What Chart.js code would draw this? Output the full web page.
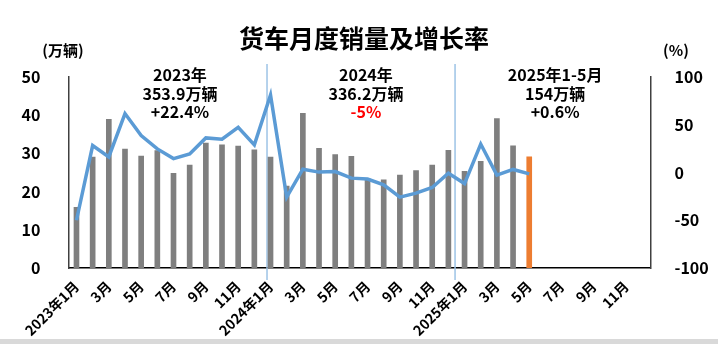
<!DOCTYPE html>
<html>
<head>
    <meta charset="utf-8">
    <title>货车月度销量及增长率</title>
    <script src="https://cdn.jsdelivr.net/npm/chart.js"></script>
    <style>
        body {
            margin: 0;
            background-color: #d9d9d9;
        }

        .wrap {
            width: 718px;
            height: 339px;
            background-color: #ffffff;
            position: relative;
        }
    </style>
</head>
<body>
    <div class="wrap">
        <canvas id="truckChart"></canvas>
    </div>

    <script>
        var months = [
            '2023年1月', '2月', '3月', '4月', '5月', '6月', '7月', '8月', '9月', '10月', '11月', '12月',
            '2024年1月', '2月', '3月', '4月', '5月', '6月', '7月', '8月', '9月', '10月', '11月', '12月',
            '2025年1月', '2月', '3月', '4月', '5月', '6月', '7月', '8月', '9月', '10月', '11月', '12月'
        ];

        // 销量 (万辆)
        var sales = [
            16.0, 29.1, 39.0, 31.2, 29.4, 30.8, 24.9, 27.0, 32.8, 32.3, 32.0, 31.0,
            29.1, 21.5, 40.6, 31.4, 29.8, 29.3, 23.5, 23.2, 24.4, 25.6, 27.0, 30.9,
            25.4, 28.0, 39.2, 32.1, 29.2
        ];

        // 同比增长率 (%)
        var growth = [
            -50, 28.2, 16.3, 61.7, 38.6, 24.7, 14.6, 19.5, 36.2, 34.8, 47.4, 28.9,
            81.2, -25.8, 3.5, 0.4, 1.0, -5.9, -6.9, -12.9, -25.8, -21.6, -15.7, -0.7,
            -11.6, 29.8, -2.8, 3.2, -1.4
        ];

        var leftTicks = [0, 10, 20, 30, 40, 50];
        var rightTicks = [-100, -50, 0, 50, 100];

        var notes = [
            { at: 6.4, lines: ['2023年', '353.9万辆', '+22.4%'], last: '#000000' },
            { at: 17.9, lines: ['2024年', '336.2万辆', '-5%'], last: '#ff0000' },
            { at: 29.6, lines: ['2025年1-5月', '154万辆', '+0.6%'], last: '#000000' }
        ];

        var fontFamily = '"Noto Sans CJK SC", "Noto Sans", sans-serif';

        var barColors = sales.map(function (v, i) {
            return i === sales.length - 1 ? '#ed7d31' : '#7f7f7f';
        });

        var decorPlugin = {
            id: 'decor',
            beforeDatasetsDraw: function (chart) {
                var ctx = chart.ctx;
                var x = chart.scales.x;
                ctx.save();
                // 年份分隔线
                ctx.strokeStyle = '#9dc3e6';
                ctx.lineWidth = 1.5;
                [x.getPixelForValue(12) - 3.5, x.getPixelForValue(24) - 9.5].forEach(function (px) {
                    ctx.beginPath();
                    ctx.moveTo(px, 64);
                    ctx.lineTo(px, 280);
                    ctx.stroke();
                });
                ctx.restore();
            },
            afterDraw: function (chart) {
                var ctx = chart.ctx;
                var x = chart.scales.x;
                ctx.save();
                ctx.textAlign = 'center';
                ctx.textBaseline = 'middle';
                ctx.fillStyle = '#000000';

                ctx.font = 'bold 25px ' + fontFamily;
                ctx.fillText('货车月度销量及增长率', 364, 38);

                ctx.font = 'bold 15px ' + fontFamily;
                ctx.fillText('(万辆)', 63, 50);
                ctx.fillText('(%)', 676, 50);

                ctx.font = 'bold 16px ' + fontFamily;
                notes.forEach(function (n) {
                    var px = x.getPixelForValue(n.at);
                    n.lines.forEach(function (t, k) {
                        ctx.fillStyle = k === n.lines.length - 1 ? n.last : '#000000';
                        ctx.fillText(t, px, 75 + k * 18.5);
                    });
                });
                ctx.restore();
            }
        };

        new Chart(document.getElementById('truckChart').getContext('2d'), {
            type: 'bar',
            data: {
                labels: months,
                datasets: [{
                    type: 'line',
                    label: '增长率',
                    data: growth,
                    yAxisID: 'y1',
                    borderColor: '#5b9bd5',
                    borderWidth: 3.5,
                    pointRadius: 0,
                    tension: 0,
                    order: 0
                }, {
                    label: '销量',
                    data: sales,
                    yAxisID: 'y',
                    backgroundColor: barColors,
                    barPercentage: 0.35,
                    categoryPercentage: 1,
                    order: 1
                }]
            },
            options: {
                responsive: true,
                maintainAspectRatio: false,
                animation: false,
                layout: {
                    padding: { top: 77, bottom: 0, left: 0, right: 0 }
                },
                plugins: {
                    legend: { display: false },
                    tooltip: { enabled: false }
                },
                scales: {
                    x: {
                        grid: { display: false },
                        border: { color: '#000000', width: 1.5 },
                        ticks: {
                            autoSkip: false,
                            maxRotation: 45,
                            minRotation: 45,
                            padding: 2,
                            color: '#000000',
                            font: { family: fontFamily, size: 14, weight: 'bold' },
                            callback: function (value, index) {
                                return index % 2 === 0 ? months[index] : '';
                            }
                        },
                        afterFit: function (scale) { scale.height = 71; }
                    },
                    y: {
                        position: 'left',
                        min: 0,
                        max: 50,
                        grid: { display: false },
                        border: { color: '#404040', width: 1.5 },
                        afterBuildTicks: function (scale) {
                            scale.ticks = leftTicks.map(function (v) { return { value: v }; });
                        },
                        ticks: {
                            padding: 20,
                            color: '#000000',
                            font: { family: fontFamily, size: 16, weight: 'bold' }
                        },
                        afterFit: function (scale) { scale.width = 68.4; }
                    },
                    y1: {
                        position: 'right',
                        min: -100,
                        max: 100,
                        grid: { display: false },
                        border: { color: '#404040', width: 1.5 },
                        afterBuildTicks: function (scale) {
                            scale.ticks = rightTicks.map(function (v) { return { value: v }; });
                        },
                        ticks: {
                            padding: 16,
                            color: '#000000',
                            font: { family: fontFamily, size: 16, weight: 'bold' }
                        },
                        afterFit: function (scale) { scale.width = 67.5; }
                    }
                }
            },
            plugins: [decorPlugin]
        });
    </script>
</body>
</html>
